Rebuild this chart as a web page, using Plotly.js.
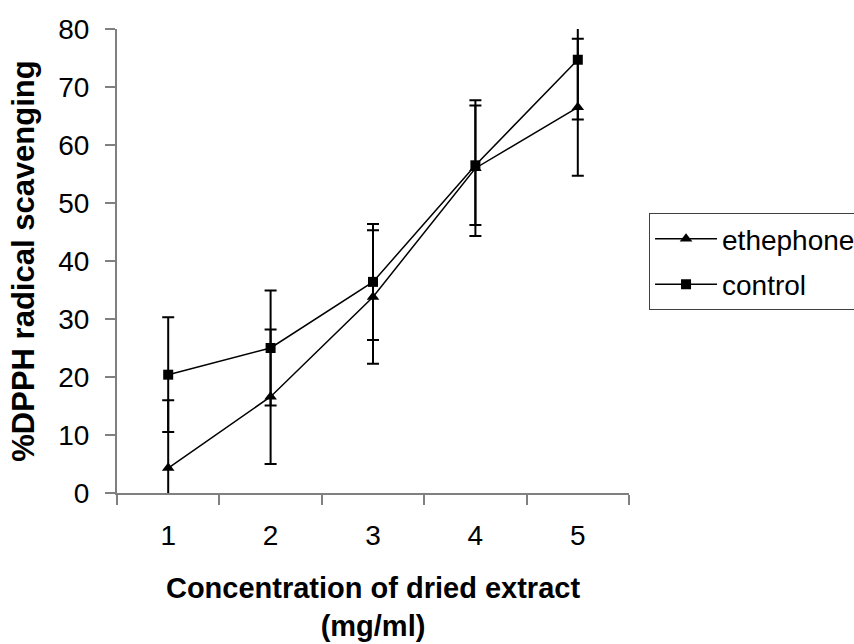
<!DOCTYPE html>
<html>
<head>
<meta charset="utf-8">
<script src="https://cdn.plot.ly/plotly-3.0.1.min.js"></script>
<style>html,body{margin:0;padding:0;background:#fff;}#chart{width:854px;height:644px;}</style>
</head>
<body>
<div id="chart"></div>
<script>
const categories = ['1', '2', '3', '4', '5'];
const ethephone = [4.3, 16.6, 33.8, 56.0, 66.5];
const ethephoneErr = [11.7, 11.6, 11.5, 11.7, 11.8];
const control = [20.4, 25.0, 36.4, 56.5, 74.7];
const controlErr = [9.9, 9.9, 10.0, 10.3, 10.3];
const yTicks = [0, 10, 20, 30, 40, 50, 60, 70, 80];

const FONT = 'Liberation Sans, Arial, sans-serif';

const traces = [
  {
    x: categories, y: ethephone, name: 'ethephone', type: 'scatter', mode: 'lines+markers',
    legendgroup: 'a', cliponaxis: false,
    line: {color: '#000', width: 1.5},
    marker: {symbol: 'triangle-up', size: 11, color: '#000'},
    error_y: {type: 'data', array: ethephoneErr, visible: true, color: '#000', thickness: 2, width: 6}
  },
  {
    x: categories, y: control, name: 'control', type: 'scatter', mode: 'lines+markers',
    legendgroup: 'b', cliponaxis: false,
    line: {color: '#000', width: 1.5},
    marker: {symbol: 'square', size: 10, color: '#000'},
    error_y: {type: 'data', array: controlErr, visible: true, color: '#000', thickness: 2, width: 6}
  }
];

const layout = {
  width: 854, height: 644,
  margin: {l: 117, r: 225, t: 29, b: 151},
  paper_bgcolor: '#fff', plot_bgcolor: '#fff',
  showlegend: true,
  font: {family: FONT, color: '#000', size: 28},
  xaxis: {
    type: 'category',
    range: [-0.5, 4.5],
    tickson: 'boundaries',
    ticks: 'outside', ticklen: 10, tickwidth: 2, tickcolor: '#808080',
    showline: true, linecolor: '#808080', linewidth: 2,
    showgrid: false, zeroline: false,
    ticklabelstandoff: 16,
    tickfont: {family: FONT, size: 28, color: '#000'},
    title: {text: 'Concentration of dried extract<br>(mg/ml)', font: {family: FONT, size: 29, color: '#000', weight: 'bold'}, standoff: 28}
  },
  yaxis: {
    range: [0, 80],
    tickvals: yTicks,
    ticktext: yTicks.map(String),
    ticks: 'outside', ticklen: 10, tickwidth: 2, tickcolor: '#808080',
    showline: true, linecolor: '#808080', linewidth: 2,
    showgrid: false, zeroline: false,
    ticklabelstandoff: 10,
    tickfont: {family: FONT, size: 28, color: '#000'},
    title: {text: '%DPPH radical scavenging', font: {family: FONT, size: 31, color: '#000', weight: 'bold'}, standoff: 14}
  },
  legend: {
    xref: 'container', yref: 'container',
    x: 0.76, xanchor: 'left', y: 0.669, yanchor: 'top',
    bordercolor: '#404040', borderwidth: 1, bgcolor: '#fff',
    font: {family: FONT, size: 28, color: '#000'},
    itemwidth: 62,
    traceorder: 'grouped', tracegroupgap: 6
  }
};

Plotly.newPlot('chart', traces, layout, {displayModeBar: false, staticPlot: true});
</script>
</body>
</html>
